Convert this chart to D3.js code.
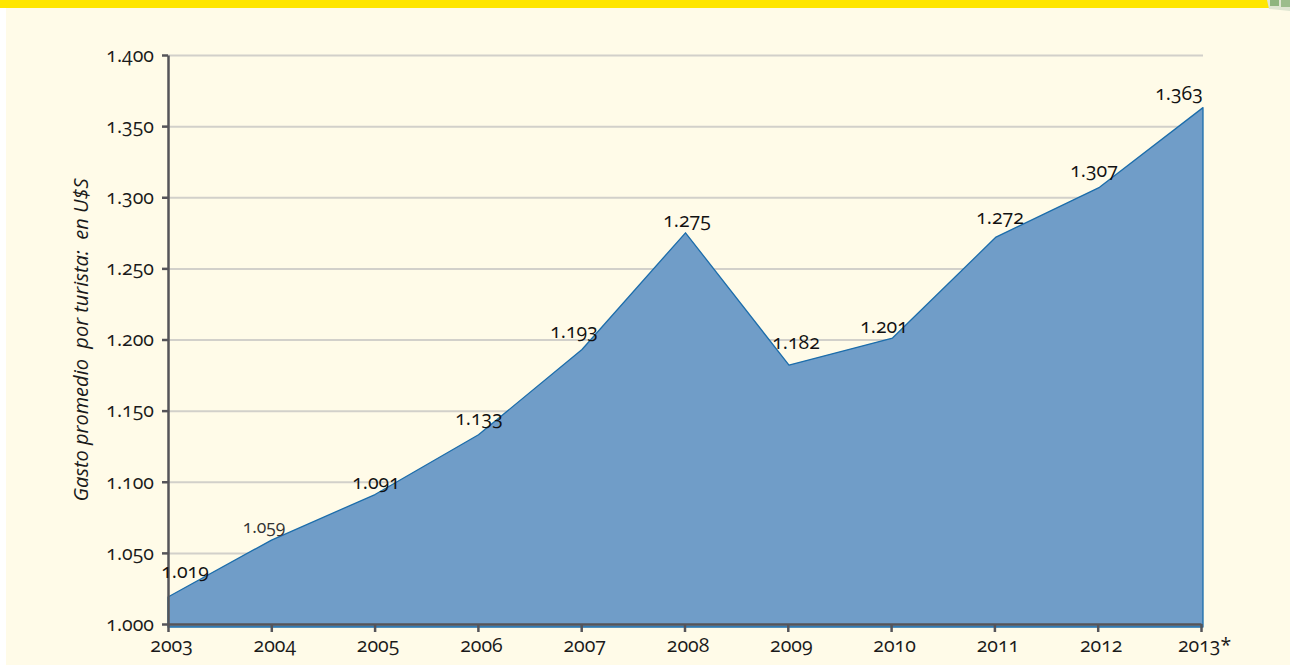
<!DOCTYPE html>
<html>
<head>
<meta charset="utf-8">
<script src="https://cdn.jsdelivr.net/npm/d3@7"></script>
<style>
    body { margin: 0; background: #ffffff; }
    svg { display: block; }
    text { font-family: "Open Sans", Lato, sans-serif; font-feature-settings: "onum" 1, "lnum" 0; fill: #1a1a1a; }
</style>
</head>
<body>
<svg width="1290" height="666"></svg>
<script>
    let years = ["2003", "2004", "2005", "2006", "2007", "2008", "2009", "2010", "2011", "2012", "2013*"];
    let gasto = [1019, 1059, 1091, 1133, 1193, 1275, 1182, 1201, 1272, 1307, 1363];
    let yTicks = [1000, 1050, 1100, 1150, 1200, 1250, 1300, 1350, 1400];
    let yTitle = "Gasto promedio  por turista:  en U$S";

    // labels were hand placed in the original, nudges relative to the point
    let labelDx = [17, -7.5, 1, 0.5, -8, 1.5, 7, -8.5, 4, -5.5, -24];
    let labelDy = [-19, -7, -6, -10, -11, -6, -16, -5, -13, -10, -8];

    let width = 1290;
    let height = 666;
    let margin = { top: 55, right: 87, bottom: 42, left: 168 };

    let svg = d3.select("svg");

    // page background
    svg.append("rect").attr("x", 6).attr("y", 8).attr("width", width - 6).attr("height", 657).attr("fill", "#fffbe8");
    svg.append("rect").attr("width", width).attr("height", 8).attr("fill", "#ffe600");

    // small green corner graphic
    svg.append("path").attr("d", "M1267,0 L1290,0 L1290,11 L1269,9 Z").attr("fill", "#dfe6d2");
    svg.append("rect").attr("x", 1270).attr("y", 0).attr("width", 9).attr("height", 6).attr("fill", "#8fb57f");
    svg.append("rect").attr("x", 1281).attr("y", 0).attr("width", 9).attr("height", 7).attr("fill", "#9cbd8c");

    let x = d3.scalePoint()
        .domain(years)
        .range([margin.left, width - margin.right]);

    // the ticks end a little before the area does in the original
    let xAxisScale = d3.scalePoint()
        .domain(years)
        .range([margin.left, width - margin.right - 2]);

    let y = d3.scaleLinear()
        .domain([1000, 1400])
        .range([height - margin.bottom, margin.top]);

    let fmt = d => d3.format(".3f")(d / 1000);

    let grid = d3.axisRight(y)
        .tickValues(yTicks)
        .tickSize(width - margin.right - margin.left)
        .tickFormat("");

    svg.append("g")
        .attr("transform", `translate(${margin.left}, 0)`)
        .call(grid)
        .call(g => g.select(".domain").remove())
        .call(g => g.selectAll("line").attr("stroke", "#d2d0ca").attr("stroke-width", 2));

    let area = d3.area()
        .x((d, i) => x(years[i]))
        .y0(y(1000) + 3)
        .y1(d => y(d));

    svg.append("path")
        .datum(gasto)
        .attr("d", area)
        .attr("fill", "#709dc8")
        .attr("stroke", "#1c6dab")
        .attr("stroke-width", 1.3)
        .attr("stroke-linejoin", "round");

    let yAxis = d3.axisLeft(y)
        .tickValues(yTicks)
        .tickSize(6)
        .tickSizeOuter(0)
        .tickPadding(8)
        .tickFormat(fmt);

    let xAxis = d3.axisBottom(xAxisScale)
        .tickSize(8)
        .tickSizeOuter(0)
        .tickPadding(6);

    svg.append("g")
        .attr("class", "x axis")
        .attr("transform", `translate(0, ${y(1000)})`)
        .call(xAxis)
        .call(g => g.selectAll("text").attr("dx", 3).style("font-size", "19.5px"));

    svg.append("g")
        .attr("class", "y axis")
        .attr("transform", `translate(${margin.left}, 0)`)
        .call(yAxis)
        .call(g => g.selectAll("text").style("font-size", "19.5px"));

    svg.selectAll(".axis .domain, .axis line")
        .attr("stroke", "#555459")
        .attr("stroke-width", 2.5);

    svg.selectAll(".axis text").attr("fill", "#1a1a1a");

    svg.append("text")
        .attr("transform", "translate(88, 340) rotate(-90)")
        .attr("text-anchor", "middle")
        .style("font-size", "20px")
        .style("font-style", "italic")
        .style("white-space", "pre")
        .text(yTitle);

    svg.append("g")
        .selectAll("text")
        .data(gasto)
        .join("text")
        .attr("x", (d, i) => x(years[i]) + labelDx[i])
        .attr("y", (d, i) => y(d) + labelDy[i])
        .attr("text-anchor", "middle")
        .style("font-size", (d, i) => i == 1 ? "17.5px" : "19.5px")
        .style("fill", (d, i) => i == 1 ? "#333333" : "#111111")
        .text(fmt);
</script>
</body>
</html>
